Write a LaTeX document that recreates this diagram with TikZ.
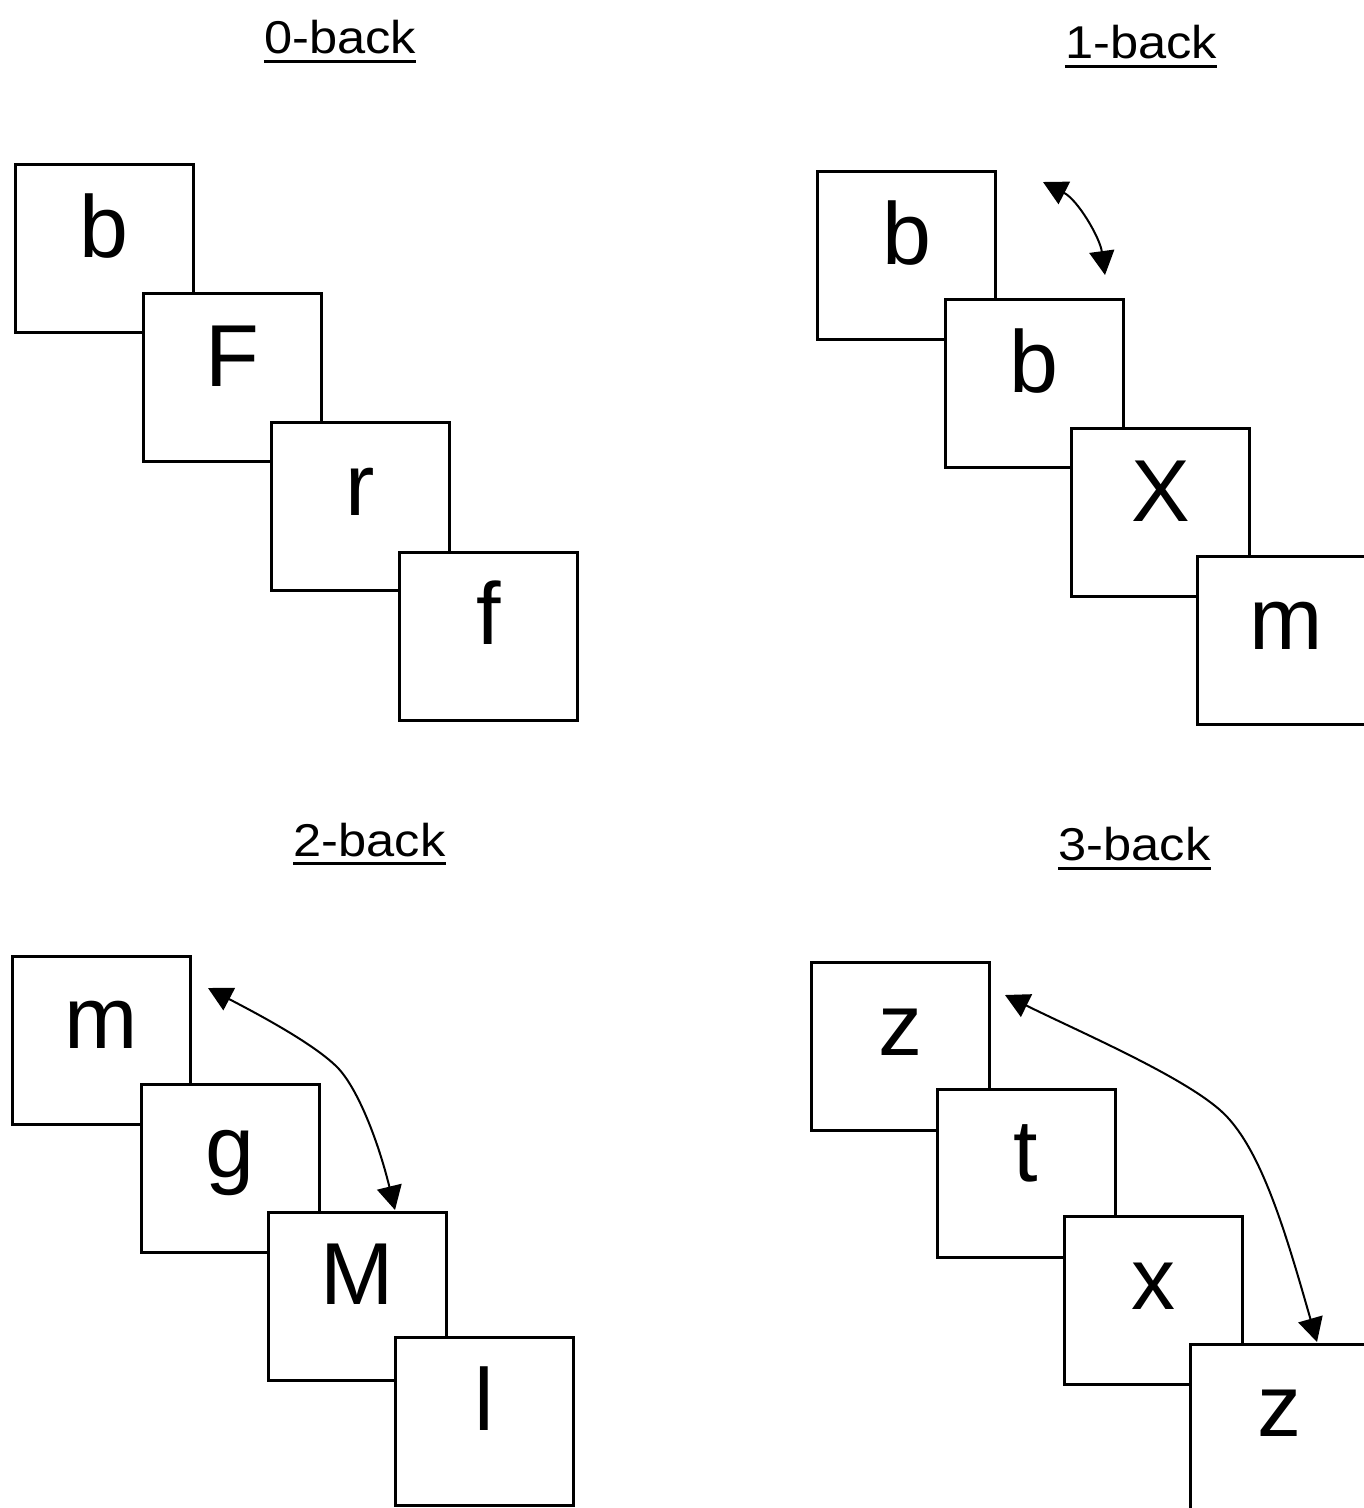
\documentclass[tikz,border=0pt]{standalone}
\usepackage{fontspec}
\setmainfont{Liberation Sans}
\usetikzlibrary{arrows.meta}
\begin{document}
\begin{tikzpicture}[x=1pt,y=-1pt,
  card/.style={draw=black, fill=white, line width=3pt, rectangle,
    minimum width=178pt, minimum height=168pt, inner sep=0pt,
    text height=17pt, text depth=0pt, font=\fontsize{88}{88}\selectfont},
  ttl/.style={anchor=base, inner sep=0pt, font=\fontsize{46}{46}\selectfont},
  uline/.style={line width=3pt},
  link/.style={line width=2pt, {Triangle[length=24pt,width=25pt]}-{Triangle[length=24pt,width=25pt]}}]
\useasboundingbox (0,0) rectangle (1364,1508);
\fill[white] (0,0) rectangle (1364,1508);
% titles
\node[ttl] (t0) at (340,53) {\scalebox{1.1}[1]{0-back}};
\node[ttl] (t1) at (1141,58) {\scalebox{1.1}[1]{1-back}};
\node[ttl] (t2) at (369.5,856) {\scalebox{1.1}[1]{2-back}};
\node[ttl] (t3) at (1134.5,860) {\scalebox{1.1}[1]{3-back}};
\draw[uline] ([yshift=-8pt]t0.base west) -- ([yshift=-8pt]t0.base east);
\draw[uline] ([yshift=-8pt]t1.base west) -- ([yshift=-8pt]t1.base east);
\draw[uline] ([yshift=-7pt]t2.base west) -- ([yshift=-7pt]t2.base east);
\draw[uline] ([yshift=-8pt]t3.base west) -- ([yshift=-8pt]t3.base east);
% 0-back
\node[card] (a1) at (104,248.5) {b};
\node[card] (a2) at (232,377.5) {F};
\node[card] (a3) at (360,506.5) {r};
\node[card] (a4) at (488.5,636) {f};
% 1-back
\node[card] (b1) at (906.5,255.5) {b};
\node[card] (b2) at (1034,383.5) {b};
\node[card] (b3) at (1160.5,512.5) {X};
\node[card] (b4) at (1286.5,640.5) {m};
% 2-back
\node[card] (c1) at (101.5,1040) {m};
\node[card] (c2) at (230,1168.5) {g};
\node[card] (c3) at (357,1296) {M};
\node[card] (c4) at (484.5,1421.5) {l};
% 3-back
\node[card] (d1) at (900.5,1046.5) {z};
\node[card] (d2) at (1026,1173) {t};
\node[card] (d3) at (1153,1300.5) {x};
\node[card] (d4) at (1279.5,1428) {z};
% arrows
\coordinate (p1s) at (1043,182);
\coordinate (p1e) at (1105,275);
\draw[link] (p1s) .. controls (1078,200) and (1100,238) .. (p1e);
\coordinate (p2s) at (208,988);
\coordinate (p2m) at (337,1067);
\coordinate (p2e) at (395,1210);
\draw[link] (p2s) .. controls (250,1010) and (312,1042) .. (p2m)
  .. controls (357,1087) and (378,1140) .. (p2e);
\coordinate (p3s) at (1005,995);
\coordinate (p3m) at (1220,1110);
\coordinate (p3e) at (1317,1342);
\draw[link] (p3s) .. controls (1080,1032) and (1180,1075) .. (p3m)
  .. controls (1260,1145) and (1285,1230) .. (p3e);
\end{tikzpicture}
\end{document}
